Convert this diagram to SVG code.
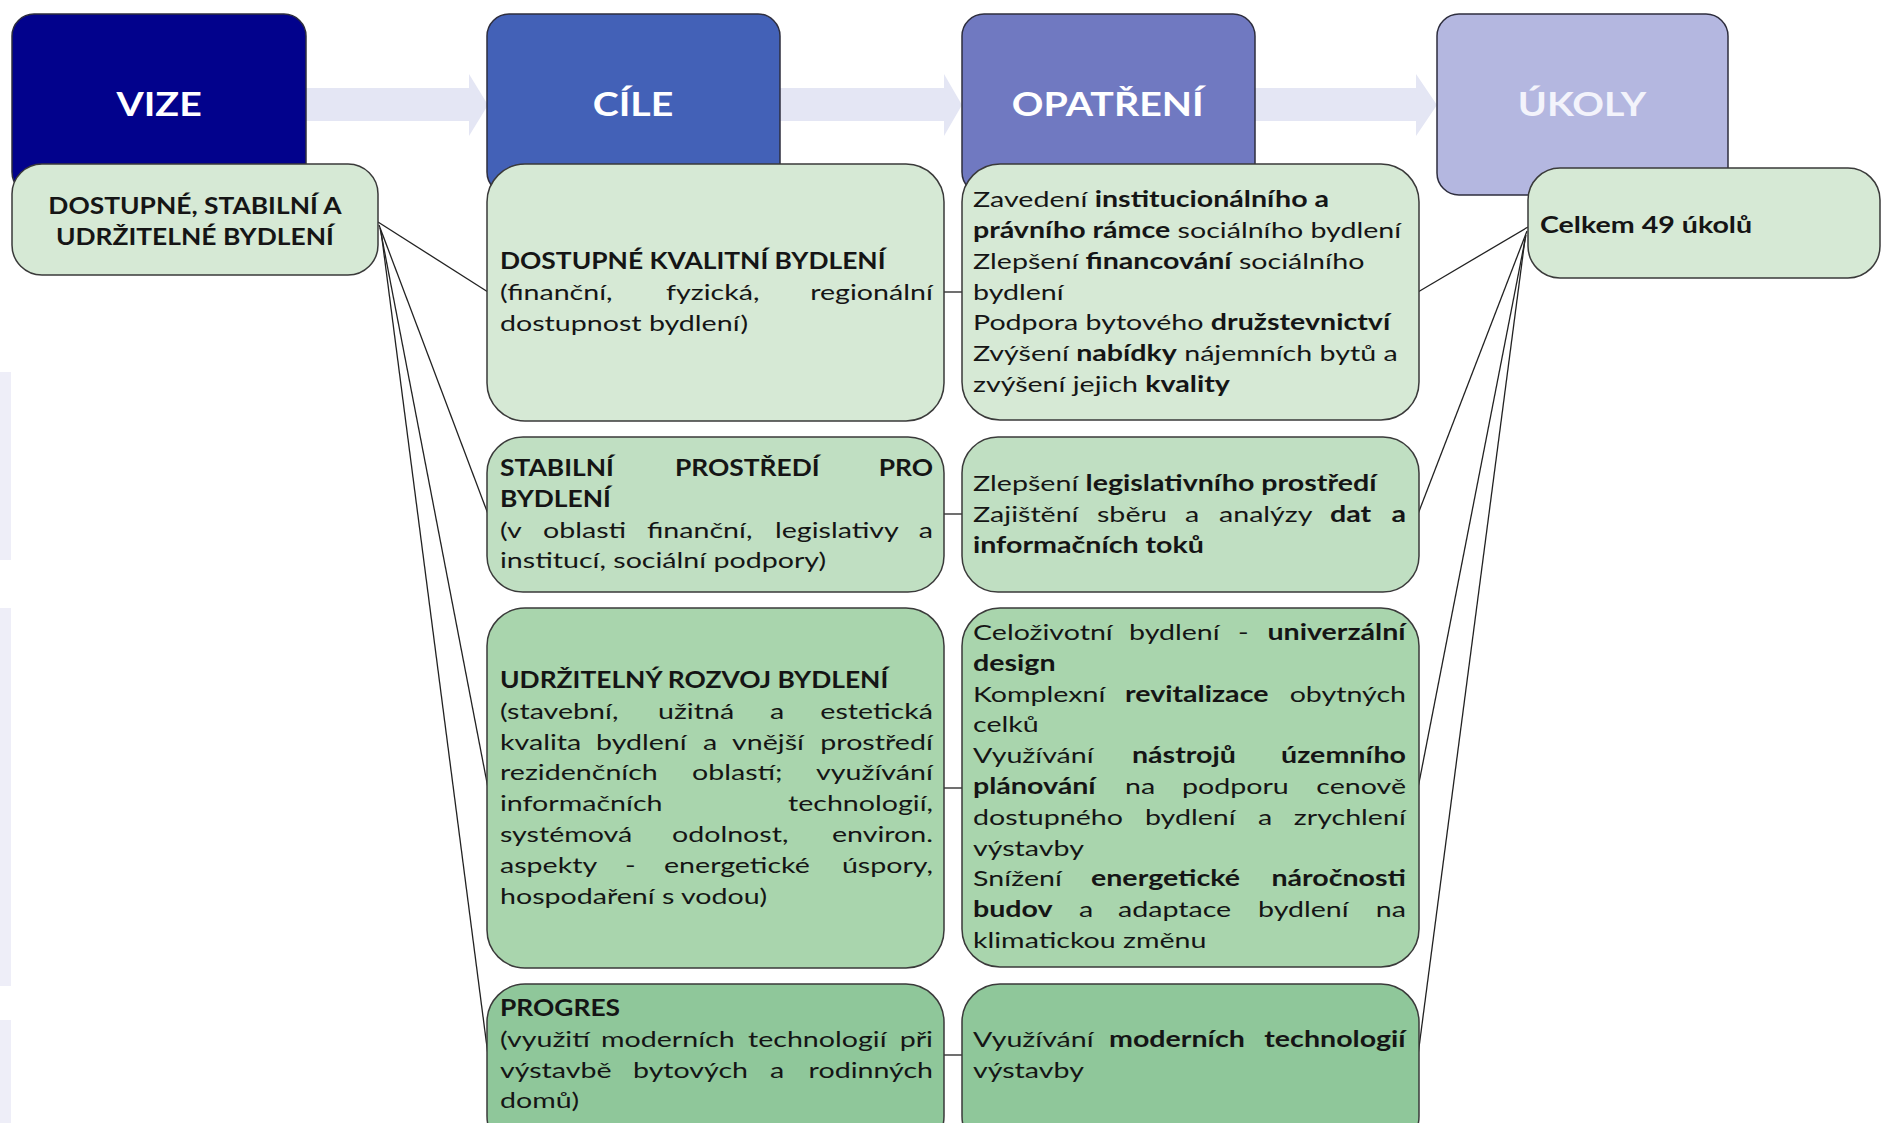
<svg xmlns="http://www.w3.org/2000/svg" width="1881" height="1123" viewBox="0 0 1881 1123">
<style>
text{font-family:Lato,"Liberation Sans",sans-serif;font-size:22px;fill:#151515;transform-box:fill-box;transform-origin:0% 50%;transform:translateY(2px) scaleX(1.3)}
.e{text-anchor:end;transform-origin:100% 50%}
.m{text-anchor:middle;transform-origin:50% 50%}
.b{font-weight:700}
.k{transform:translateY(2px) scaleX(1.2)}
.h{font-size:33px;font-weight:700;fill:#ffffff;transform:scaleX(1.19)}
.hd{stroke:#2e2e3e;stroke-width:1.5}
.g{stroke:#3a3a3a;stroke-width:1.5}
.g1{fill:#d6e9d5}
.g2{fill:#c0dfc2}
.g3{fill:#a9d5ad}
.g4{fill:#8fc79a}
.arr{fill:#e4e6f4}
.c{stroke:#222;stroke-width:1.3;fill:none}
</style>
<rect width="1881" height="1123" fill="#ffffff"/>
<g id="background">
<rect x="0" y="372" width="11" height="188" fill="#eeeef8"/>
<rect x="0" y="608" width="11" height="378" fill="#eeeef8"/>
<rect x="0" y="1020" width="11" height="103" fill="#eeeef8"/>
</g>
<g id="arrows">
<polygon class="arr" points="306,88 469,88 469,74 488,105 469,136 469,121 306,121"/>
<polygon class="arr" points="780,88 944,88 944,74 962,105 944,136 944,121 780,121"/>
<polygon class="arr" points="1255,88 1416,88 1416,74 1437,105 1416,136 1416,121 1255,121"/>
</g>
<g id="header-vize"><rect class="hd" x="12" y="14" width="294" height="180" rx="22" fill="#02028c"/><text class="h m" x="159" y="116">VIZE</text></g>
<g id="header-cile"><rect class="hd" x="487" y="14" width="293" height="180" rx="22" fill="#4361b7"/><text class="h m" x="633" y="116">CÍLE</text></g>
<g id="header-opatreni"><rect class="hd" x="962" y="14" width="293" height="180" rx="22" fill="#7079c1"/><text class="h m" x="1108" y="116">OPATŘENÍ</text></g>
<g id="header-ukoly"><rect class="hd" x="1437" y="14" width="291" height="181" rx="22" fill="#b4b7e0"/><text class="h m" x="1582" y="116" style="fill:#f3f3fb">ÚKOLY</text></g>
<g id="connectors">
<line class="c" x1="378" y1="222" x2="488" y2="292"/>
<line class="c" x1="379" y1="225" x2="488" y2="514"/>
<line class="c" x1="380" y1="228" x2="488" y2="788"/>
<line class="c" x1="381" y1="231" x2="488" y2="1055"/>
<line class="c" x1="943" y1="292" x2="963" y2="292"/>
<line class="c" x1="943" y1="514" x2="963" y2="514"/>
<line class="c" x1="943" y1="788" x2="963" y2="788"/>
<line class="c" x1="943" y1="1055" x2="963" y2="1055"/>
<line class="c" x1="1528" y1="227" x2="1418" y2="292"/>
<line class="c" x1="1527" y1="231" x2="1418" y2="514"/>
<line class="c" x1="1526" y1="235" x2="1418" y2="788"/>
<line class="c" x1="1525" y1="239" x2="1418" y2="1055"/>
</g>
<g id="vize-text">
<rect class="g g1" x="12" y="164" width="366" height="111" rx="30"/>
<text class="b k m" x="195" y="212">DOSTUPNÉ, STABILNÍ A</text>
<text class="b k m" x="195" y="243">UDRŽITELNÉ BYDLENÍ</text>
</g>
<g id="cil-1">
<rect class="g g1" x="487" y="164" width="457" height="257" rx="38"/>
<text class="b k" x="500" y="267">DOSTUPNÉ KVALITNÍ BYDLENÍ</text>
<text x="500" y="298">(finanční,</text>
<text x="666" y="298">fyzická,</text>
<text class="e" x="933" y="298">regionální</text>
<text x="500" y="329">dostupnost bydlení)</text>
</g>
<g id="cil-2">
<rect class="g g2" x="487" y="437" width="457" height="155" rx="36"/>
<text class="b k" x="500" y="474">STABILNÍ</text>
<text class="b k" x="675" y="474">PROSTŘEDÍ</text>
<text class="b k e" x="933" y="474">PRO</text>
<text class="b k" x="500" y="505">BYDLENÍ</text>
<text x="500" y="536">(v</text>
<text x="543" y="536">oblasti</text>
<text x="647" y="536">finanční,</text>
<text x="775" y="536">legislativy</text>
<text class="e" x="933" y="536">a</text>
<text x="500" y="566">institucí, sociální podpory)</text>
</g>
<g id="cil-3">
<rect class="g g3" x="487" y="608" width="457" height="360" rx="38"/>
<text class="b k" x="500" y="686">UDRŽITELNÝ ROZVOJ BYDLENÍ</text>
<text x="500" y="717">(stavební,</text>
<text x="658" y="717">užitná</text>
<text x="770" y="717">a</text>
<text class="e" x="933" y="717">estetická</text>
<text x="500" y="748">kvalita</text>
<text x="596" y="748">bydlení</text>
<text x="703" y="748">a</text>
<text x="732" y="748">vnější</text>
<text class="e" x="933" y="748">prostředí</text>
<text x="500" y="778">rezidenčních</text>
<text x="692" y="778">oblastí;</text>
<text class="e" x="933" y="778">využívání</text>
<text x="500" y="809">informačních</text>
<text class="e" x="933" y="809">technologií,</text>
<text x="500" y="840">systémová</text>
<text x="672" y="840">odolnost,</text>
<text class="e" x="933" y="840">environ.</text>
<text x="500" y="871">aspekty</text>
<text x="625" y="871">-</text>
<text x="664" y="871">energetické</text>
<text class="e" x="933" y="871">úspory,</text>
<text x="500" y="902">hospodaření s vodou)</text>
</g>
<g id="cil-4">
<rect class="g g4" x="487" y="984" width="457" height="170" rx="38"/>
<text class="b k" x="500" y="1014">PROGRES</text>
<text x="500" y="1045">(využití</text>
<text x="601" y="1045">moderních</text>
<text x="748" y="1045">technologií</text>
<text class="e" x="933" y="1045">při</text>
<text x="500" y="1076">výstavbě</text>
<text x="633" y="1076">bytových</text>
<text x="770" y="1076">a</text>
<text class="e" x="933" y="1076">rodinných</text>
<text x="500" y="1106">domů)</text>
</g>
<g id="opatreni-1">
<rect class="g g1" x="962" y="164" width="457" height="256" rx="38"/>
<text x="973" y="205">Zavedení <tspan class="b">institucionálního a</tspan></text>
<text x="973" y="236"><tspan class="b">právního rámce</tspan> sociálního bydlení</text>
<text x="973" y="267">Zlepšení <tspan class="b">financování</tspan> sociálního</text>
<text x="973" y="298">bydlení</text>
<text x="973" y="328">Podpora bytového <tspan class="b">družstevnictví</tspan></text>
<text x="973" y="359">Zvýšení <tspan class="b">nabídky</tspan> nájemních bytů a</text>
<text x="973" y="390">zvýšení jejich <tspan class="b">kvality</tspan></text>
</g>
<g id="opatreni-2">
<rect class="g g2" x="962" y="437" width="457" height="155" rx="36"/>
<text x="973" y="489">Zlepšení <tspan class="b">legislativního prostředí</tspan></text>
<text x="973" y="520">Zajištění</text>
<text x="1097" y="520">sběru</text>
<text x="1185" y="520">a</text>
<text x="1219" y="520">analýzy</text>
<text class="b" x="1330" y="520">dat</text>
<text class="b e" x="1406" y="520">a</text>
<text class="b" x="973" y="551">informačních toků</text>
</g>
<g id="opatreni-3">
<rect class="g g3" x="962" y="608" width="457" height="359" rx="38"/>
<text x="973" y="638">Celoživotní</text>
<text x="1129" y="638">bydlení</text>
<text x="1238" y="638">-</text>
<text class="b e" x="1406" y="638">univerzální</text>
<text class="b" x="973" y="669">design</text>
<text x="973" y="700">Komplexní</text>
<text class="b" x="1125" y="700">revitalizace</text>
<text class="e" x="1406" y="700">obytných</text>
<text x="973" y="730">celků</text>
<text x="973" y="761">Využívání</text>
<text class="b" x="1132" y="761">nástrojů</text>
<text class="b e" x="1406" y="761">územního</text>
<text class="b" x="973" y="792">plánování</text>
<text x="1125" y="792">na</text>
<text x="1182" y="792">podporu</text>
<text class="e" x="1406" y="792">cenově</text>
<text x="973" y="823">dostupného</text>
<text x="1145" y="823">bydlení</text>
<text x="1258" y="823">a</text>
<text class="e" x="1406" y="823">zrychlení</text>
<text x="973" y="854">výstavby</text>
<text x="973" y="884">Snížení</text>
<text class="b" x="1091" y="884">energetické</text>
<text class="b e" x="1406" y="884">náročnosti</text>
<text class="b" x="973" y="915">budov</text>
<text x="1079" y="915">a</text>
<text x="1118" y="915">adaptace</text>
<text x="1258" y="915">bydlení</text>
<text class="e" x="1406" y="915">na</text>
<text x="973" y="946">klimatickou změnu</text>
</g>
<g id="opatreni-4">
<rect class="g g4" x="962" y="984" width="457" height="170" rx="38"/>
<text x="973" y="1045">Využívání</text>
<text class="b" x="1109" y="1045">moderních</text>
<text class="b e" x="1406" y="1045">technologií</text>
<text x="973" y="1076">výstavby</text>
</g>
<g id="ukoly-1">
<rect class="g g1" x="1528" y="168" width="352" height="110" rx="32"/>
<text class="b" x="1540" y="231">Celkem 49 úkolů</text>
</g>
</svg>
